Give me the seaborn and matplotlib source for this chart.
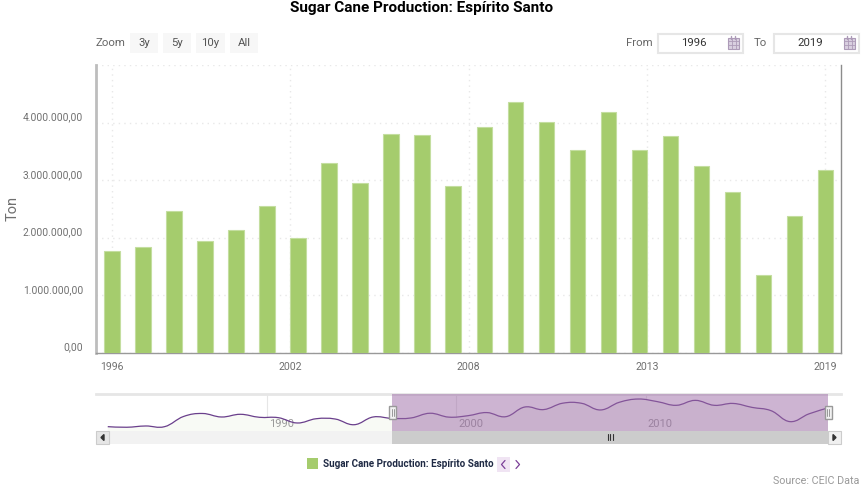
import matplotlib
matplotlib.use("Agg")
import matplotlib.pyplot as plt
import seaborn as sns
from matplotlib.patches import PathPatch, Rectangle
from matplotlib.path import Path

# main series, tons
years = list(range(1996, 2020))
values = [1770000, 1830000, 2460000, 1940000, 2130000, 2550000, 2000000, 3290000,
          2950000, 3800000, 3790000, 2900000, 3930000, 4360000, 4010000, 3520000,
          4180000, 3520000, 3770000, 3240000, 2800000, 1340000, 2380000, 3170000]

# earlier years only show up in the navigator
early_years = list(range(1981, 1996))
early_values = [670000, 590000, 760000, 670000, 2030000, 2430000, 1960000, 2320000,
                1920000, 1870000, 1160000, 1730000, 1690000, 930000, 1960000]

x_tick_pos = [0, 5.75, 11.5, 17.25, 23]
x_tick_labels = ["1996", "2002", "2008", "2013", "2019"]
y_ticks = [0, 1000000, 2000000, 3000000, 4000000]
y_tick_labels = ["0,00", "1.000.000,00", "2.000.000,00", "3.000.000,00", "4.000.000,00"]
nav_ticks = [1990, 2000, 2010]
zoom_labels = ["3y", "5y", "10y", "All"]

TITLE = "Sugar Cane Production: Espírito Santo"
BAR = "#a5cc6d"
TXT = "#707070"
W, H = 865, 487

sns.set_theme(style="white")
plt.rcParams["font.family"] = ["Roboto", "DejaVu Sans"]


def px_axes(fig, x0, y0, x1, y1, **kw):
    return fig.add_axes([x0 / W, 1 - y1 / H, (x1 - x0) / W, (y1 - y0) / H], **kw)


def spline_path(xs, ys):
    # same kind of smoothing the navigator line has
    verts = [(xs[0], ys[0])]
    codes = [Path.MOVETO]
    n = len(xs)
    for i in range(n - 1):
        p0 = max(i - 1, 0)
        p3 = min(i + 2, n - 1)
        verts.append((xs[i] + (xs[i + 1] - xs[p0]) / 5, ys[i] + (ys[i + 1] - ys[p0]) / 5))
        verts.append((xs[i + 1] - (xs[p3] - xs[i]) / 5, ys[i + 1] - (ys[p3] - ys[i]) / 5))
        verts.append((xs[i + 1], ys[i + 1]))
        codes += [Path.CURVE4] * 3
    return verts, codes


fig = plt.figure(figsize=(W / 100, H / 100), dpi=100)

# === main chart ===
ax = px_axes(fig, 96, 65, 841, 352.5)
sns.barplot(x=years, y=values, color=BAR, saturation=1, width=0.5, native_scale=False,
            edgecolor="#c4dea0", linewidth=0.8, ax=ax, zorder=3)
ax.set_xlim(-0.516, 23.5)
ax.set_ylim(0, 5000000)
ax.set_xticks(x_tick_pos, x_tick_labels)
ax.set_yticks(y_ticks + [5000000], y_tick_labels + [""])
ax.grid(True, color="#e8e8e8", linestyle=(0, (1, 3)), linewidth=1)
ax.set_axisbelow(True)
ax.tick_params(axis="y", labelsize=7.4, labelcolor=TXT, color="#e6e6e6", length=5, width=1.5, pad=4.3)
ax.tick_params(axis="x", labelsize=7.6, labelcolor=TXT, color="#e6e6e6", length=4, width=1, pad=3)
for lab in ax.get_yticklabels():
    lab.set_verticalalignment("bottom")
ax.set_ylabel("Ton", fontsize=10.5, color=TXT, labelpad=0)
ax.yaxis.set_label_coords(-0.102, 0.5)
ax.set_xlabel("")
ax.spines["left"].set(color="#bdbdbd", linewidth=2)
ax.spines["bottom"].set(color="#999999", linewidth=1)
ax.spines["right"].set(color="#8c8c8c", linewidth=1)
ax.spines["top"].set_visible(False)

# === navigator ===
nav = px_axes(fig, 96, 394, 841, 431)
nav_x = [y + 0.6 for y in early_years + years]
nav_y = early_values + values
nav.set_xlim(1980.98, 2020.29)
nav.set_ylim(90000, 5030000)
verts, codes = spline_path(nav_x, nav_y)
fill_verts = verts + [(nav_x[-1], 0), (nav_x[0], 0), verts[0]]
fill_codes = codes + [Path.LINETO, Path.LINETO, Path.CLOSEPOLY]
nav.add_patch(PathPatch(Path(fill_verts, fill_codes), facecolor="#f8faf5", edgecolor="none", zorder=1))
nav.add_patch(PathPatch(Path(verts, codes), facecolor="none", edgecolor="#6a3f8c", linewidth=0.9, zorder=3))
nav.set_xticks(nav_ticks)
nav.set_xticklabels([])
nav.set_yticks([])
nav.grid(True, axis="x", color="#e6e6e6", linewidth=0.8, zorder=0)
nav.tick_params(length=0)
for yr in nav_ticks:
    nav.text(yr + 0.1, 420000, str(yr), fontsize=8, color="#9a9a9a", va="bottom", zorder=2)
nav.axvspan(years[0] + 0.6, years[-1] + 0.6, color="#9c6aa6", alpha=0.5, lw=0, zorder=4)
for s in nav.spines.values():
    s.set_visible(False)
nav.spines["top"].set(visible=True, color="#e6e6e6", linewidth=2)

# === page furniture in pixel coordinates ===
ui = fig.add_axes([0, 0, 1, 1], zorder=10)
ui.set_xlim(0, W)
ui.set_ylim(H, 0)
ui.axis("off")
ui.patch.set_alpha(0)


def box(x0, y0, x1, y1, fc, ec="none", lw=0):
    ui.add_patch(Rectangle((x0, y0), x1 - x0, y1 - y0, facecolor=fc, edgecolor=ec, linewidth=lw))


def calendar(x0):
    box(x0, 38, x0 + 11, 49, "#d9cfe0", "#ad9bb8", 0.8)
    for dx in (3.5, 7.5):
        ui.plot([x0 + dx, x0 + dx], [38, 49], color="#ad9bb8", lw=0.6)
        ui.plot([x0 + dx - 1, x0 + dx - 1], [36, 39], color="#ad9bb8", lw=1)
    for dy in (41, 44.5):
        ui.plot([x0, x0 + 11], [dy, dy], color="#ad9bb8", lw=0.6)


ui.text(422, 8, TITLE, fontsize=10.95, fontweight="bold", color="black", ha="center", va="center")

ui.text(96, 43.5, "Zoom", fontsize=8.2, color="#666666", va="center")
for lab, x0, x1 in zip(zoom_labels, [130, 163, 196, 230], [158, 191, 225, 258]):
    box(x0, 33, x1, 53, "#f7f7f7")
    ui.text((x0 + x1) / 2, 42.5, lab, fontsize=8.2, color="#555555", ha="center", va="center")

ui.text(626, 42.5, "From", fontsize=8.2, color="#666666", va="center")
ui.text(754, 42.5, "To", fontsize=8.2, color="#666666", va="center")
box(658, 34, 743, 52.5, "white", "#e6e6e6", 1.5)
box(774, 34, 859, 52.5, "white", "#e6e6e6", 1.5)
ui.text(694, 43.5, "1996", fontsize=8.2, color="#333333", ha="center", va="center")
ui.text(810, 43.5, "2019", fontsize=8.2, color="#333333", ha="center", va="center")
calendar(728)
calendar(844)

# scrollbar
box(96, 431, 841, 444, "#f2f2f2")
box(392, 431, 828, 444, "#cccccc")
box(96, 431, 109, 444, "#e6e6e6", "#cccccc", 0.8)
box(828, 431, 841, 444, "#f0f0f0", "#cccccc", 0.8)
ui.fill([104, 104, 101], [434.5, 440.5, 437.5], color="#333333")
ui.fill([833, 833, 836], [434.5, 440.5, 437.5], color="#333333")
for gx in (607.5, 610, 612.5):
    ui.plot([gx, gx], [434, 439.5], color="#333333", lw=0.8)

# navigator handles
for hx in (392.5, 828):
    box(hx - 3.5, 405.5, hx + 3.5, 419, "#f2f2f2", "#999999", 1)
    for gx in (hx - 1, hx + 1):
        ui.plot([gx, gx], [408.5, 416], color="#999999", lw=0.7)

# legend
box(307, 458, 318, 469, BAR)
ui.text(323, 464, TITLE, fontsize=7.15, fontweight="bold", color="#1f2a44", va="center")
box(497, 457, 510, 471.5, "#f0e4f3")
ui.plot([505, 501.5, 505], [460.5, 464.5, 468.5], color="#7b3f98", lw=0.9)
ui.plot([516, 519.5, 516], [460.5, 464.5, 468.5], color="#7b3f98", lw=0.9)

ui.text(859, 481, "Source: CEIC Data", fontsize=7.75, color="#999999", ha="right", va="center")

fig.savefig("out.png", dpi=100)
